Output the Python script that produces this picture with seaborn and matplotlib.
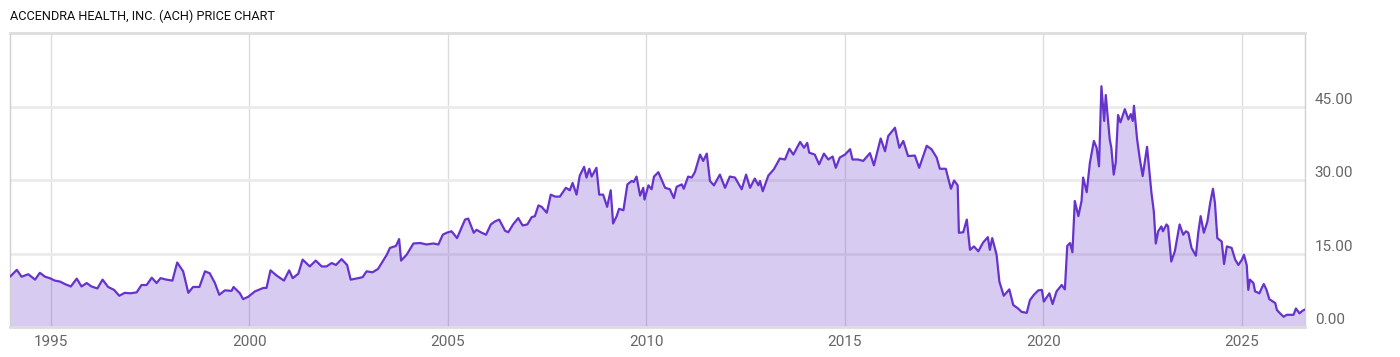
import numpy as np
import pandas as pd
import seaborn as sns
import matplotlib
matplotlib.use("Agg")
import matplotlib.pyplot as plt

sns.set_theme(style="white")
plt.rcParams['font.family'] = ['Roboto', 'DejaVu Sans']

TITLE = "ACCENDRA HEALTH, INC. (ACH) PRICE CHART"

# price history (decimal year, close)
years = [
    1993.97, 1994.14, 1994.26, 1994.43, 1994.60, 1994.72, 1994.85, 1994.97,
    1995.10, 1995.23, 1995.35, 1995.50, 1995.65, 1995.77, 1995.90,
    1996.02, 1996.17, 1996.30, 1996.44, 1996.59, 1996.72, 1996.86,
    1997.00, 1997.16, 1997.28, 1997.41, 1997.54, 1997.66, 1997.76, 1997.91,
    1998.06, 1998.18, 1998.33, 1998.46, 1998.58, 1998.74, 1998.88,
    1999.00, 1999.13, 1999.24, 1999.38, 1999.55, 1999.60, 1999.76, 1999.84, 1999.97,
    2000.14, 2000.35, 2000.43, 2000.53, 2000.69, 2000.87,
    2001.00, 2001.09, 2001.23, 2001.34, 2001.52, 2001.67, 2001.82, 2001.94,
    2002.07, 2002.18, 2002.32, 2002.46, 2002.55, 2002.74, 2002.85, 2002.95,
    2003.10, 2003.24, 2003.46, 2003.54, 2003.69, 2003.77, 2003.82, 2003.96,
    2004.13, 2004.30, 2004.46, 2004.63, 2004.76, 2004.87, 2004.97,
    2005.09, 2005.23, 2005.43, 2005.51, 2005.65, 2005.72, 2005.85, 2005.96,
    2006.08, 2006.18, 2006.29, 2006.44, 2006.52, 2006.64, 2006.77, 2006.88,
    2007.00, 2007.11, 2007.19, 2007.28, 2007.36, 2007.49, 2007.59, 2007.70, 2007.82, 2007.97,
    2008.07, 2008.14, 2008.24, 2008.32, 2008.43, 2008.49, 2008.56, 2008.62, 2008.74, 2008.81, 2008.91,
    2009.01, 2009.10, 2009.16, 2009.25, 2009.31, 2009.42, 2009.52, 2009.63, 2009.68, 2009.75, 2009.84, 2009.92, 2009.95,
    2010.05, 2010.13, 2010.19, 2010.30, 2010.47, 2010.59, 2010.69, 2010.76, 2010.89, 2010.94,
    2011.05, 2011.14, 2011.22, 2011.35, 2011.43, 2011.52, 2011.60, 2011.70, 2011.85, 2011.98,
    2012.10, 2012.23, 2012.40, 2012.51, 2012.61, 2012.73, 2012.82, 2012.86, 2012.93,
    2013.07, 2013.21, 2013.36, 2013.49, 2013.60, 2013.70, 2013.87, 2013.97,
    2014.05, 2014.10, 2014.24, 2014.35, 2014.47, 2014.58, 2014.69, 2014.77, 2014.87,
    2015.00, 2015.13, 2015.19, 2015.33, 2015.46, 2015.63, 2015.73, 2015.90,
    2016.01, 2016.09, 2016.26, 2016.37, 2016.47, 2016.59, 2016.76, 2016.87,
    2017.06, 2017.18, 2017.31, 2017.39, 2017.54, 2017.67, 2017.75, 2017.84, 2017.87, 2017.98,
    2018.07, 2018.15, 2018.25, 2018.36, 2018.48, 2018.60, 2018.65, 2018.71, 2018.82, 2018.89,
    2019.00, 2019.14, 2019.24, 2019.36, 2019.45, 2019.58, 2019.66, 2019.76, 2019.87, 2019.96,
    2020.01, 2020.15, 2020.23, 2020.33, 2020.46, 2020.54, 2020.60, 2020.67, 2020.73, 2020.79, 2020.88, 2020.96,
    2021.00, 2021.09, 2021.17, 2021.27, 2021.34, 2021.40, 2021.46, 2021.53, 2021.57, 2021.67, 2021.71, 2021.77, 2021.82, 2021.88, 2021.94,
    2022.05, 2022.14, 2022.20, 2022.25, 2022.28, 2022.36, 2022.43, 2022.50, 2022.61, 2022.72, 2022.78, 2022.83, 2022.89, 2022.97,
    2023.01, 2023.10, 2023.14, 2023.22, 2023.31, 2023.43, 2023.52, 2023.59, 2023.65, 2023.73, 2023.84, 2023.90, 2023.96,
    2024.04, 2024.13, 2024.20, 2024.27, 2024.32, 2024.38, 2024.49, 2024.55, 2024.62, 2024.74, 2024.83, 2024.91,
    2025.00, 2025.05, 2025.12, 2025.16, 2025.20, 2025.29, 2025.33, 2025.44, 2025.50, 2025.55, 2025.62, 2025.69, 2025.84, 2025.88, 2025.96,
    2026.05, 2026.13, 2026.30, 2026.36, 2026.45, 2026.52, 2026.59,
]

prices = [
    10.3, 11.7, 10.3, 10.8, 9.7, 11.1, 10.3, 10.0,
    9.5, 9.3, 8.8, 8.3, 9.9, 8.3, 9.0,
    8.3, 7.9, 9.7, 8.2, 7.6, 6.4, 7.0,
    6.9, 7.1, 8.6, 8.6, 10.1, 9.0, 10.0, 9.7,
    9.5, 13.2, 11.4, 7.0, 8.2, 8.2, 11.4,
    11.0, 9.0, 6.6, 7.5, 7.4, 8.2, 6.9, 5.7, 6.2,
    7.3, 8.0, 8.0, 11.6, 10.5, 9.5,
    11.6, 10.0, 10.9, 13.8, 12.4, 13.6, 12.4, 12.4,
    13.1, 12.7, 13.9, 12.7, 9.7, 10.0, 10.2, 11.4,
    11.2, 11.9, 14.8, 16.2, 16.6, 18.0, 13.6, 14.8,
    17.1, 17.2, 16.9, 17.1, 16.9, 18.9, 19.3,
    19.6, 18.2, 22.0, 22.2, 19.3, 19.9, 19.3, 18.9,
    21.0, 21.6, 22.0, 19.7, 19.4, 21.0, 22.3, 20.8,
    21.0, 22.5, 22.7, 24.9, 24.6, 23.4, 27.1, 26.7, 26.7, 28.5,
    28.0, 29.5, 27.1, 31.0, 32.8, 30.6, 32.4, 30.8, 32.6, 27.1, 27.1,
    24.6, 28.0, 21.2, 22.7, 24.2, 23.9, 29.2, 29.9, 29.7, 30.8, 26.9, 28.5, 26.1,
    29.0, 28.2, 30.8, 31.7, 28.5, 28.2, 26.4, 28.7, 29.2, 28.3,
    30.8, 30.6, 31.7, 35.3, 34.0, 35.5, 29.9, 29.0, 31.2, 28.5,
    30.8, 30.6, 28.2, 31.2, 28.5, 30.4, 29.0, 29.9, 27.8,
    31.0, 32.3, 34.5, 34.3, 36.5, 35.3, 37.9, 36.7,
    37.7, 35.7, 35.3, 33.3, 35.5, 34.3, 34.9, 32.6, 34.7,
    35.3, 36.4, 34.3, 34.3, 34.0, 35.6, 33.1, 38.6,
    36.0, 39.1, 40.8, 36.7, 38.1, 35.0, 35.1, 32.6,
    37.1, 36.4, 34.7, 32.4, 32.4, 28.3, 30.0, 29.0, 19.3, 19.4,
    22.0, 15.8, 16.5, 15.5, 17.3, 18.4, 15.8, 18.2, 14.8, 9.3,
    6.4, 7.7, 4.5, 3.8, 3.1, 2.9, 5.5, 6.6, 7.5, 7.6,
    5.2, 6.9, 4.7, 7.3, 8.6, 7.7, 16.6, 17.2, 15.3, 25.8, 22.7, 25.8,
    30.6, 27.6, 33.6, 38.1, 36.7, 32.9, 49.3, 42.2, 47.5, 38.4, 36.7, 31.2, 33.6, 43.4, 41.9,
    44.6, 42.5, 43.6, 42.2, 45.3, 38.4, 34.3, 30.9, 36.9, 27.5, 23.7, 17.1, 19.6, 20.6,
    19.6, 21.0, 20.6, 13.4, 15.5, 21.0, 18.9, 19.6, 19.3, 16.2, 14.6, 19.3, 22.7,
    19.3, 21.6, 25.4, 28.3, 25.4, 18.2, 17.5, 12.9, 16.5, 16.2, 13.8, 12.7,
    13.8, 14.8, 12.7, 7.6, 9.7, 9.0, 7.3, 6.9, 8.0, 8.8, 7.6, 5.7, 4.9, 3.5, 2.8,
    2.1, 2.5, 2.5, 3.8, 2.8, 3.3, 3.6,
]

year_ticks = [1995, 2000, 2005, 2010, 2015, 2020, 2025]
price_ticks = [0, 15, 30, 45]

df = pd.DataFrame({"year": years, "price": prices})

LINE = "#6633cc"
GRID_V = "#dcdcdc"
GRID_H = "#ebebeb"
TEXT = "#666666"

fig = plt.figure(figsize=(14, 3.57), dpi=100)
ax = fig.add_axes([0.0071, 0.084, 0.925, 0.8236])

ax.fill_between(df["year"], df["price"], 0, color=LINE, alpha=0.25, lw=0, zorder=2)
sns.lineplot(data=df, x="year", y="price", ax=ax, color=LINE, lw=1.6, zorder=3)

ax.set_xlim(1993.967, 2026.587)
ax.set_ylim(0, 60.2)

ax.set_xticks(year_ticks)
ax.set_xticklabels([str(y) for y in year_ticks])
ax.set_yticks(price_ticks)
ax.set_yticklabels([f"{v:.2f}" for v in price_ticks])

ax.grid(False)
for y in year_ticks:
    ax.axvline(y, color=GRID_V, lw=1, zorder=1)
for v in price_ticks[1:]:
    ax.axhline(v, color=GRID_H, lw=2, zorder=1)

ax.yaxis.tick_right()
ax.tick_params(axis='both', length=0, labelsize=11, labelcolor=TEXT)
ax.tick_params(axis='x', pad=6)
ax.tick_params(axis='y', pad=7)
for lbl in ax.get_yticklabels():
    lbl.set_verticalalignment('bottom')

ax.set_xlabel("")
ax.set_ylabel("")

for side in ['top', 'bottom']:
    ax.spines[side].set_color("#dddddd")
    ax.spines[side].set_linewidth(2)
for side in ['left', 'right']:
    ax.spines[side].set_color("#d0d0d0")
    ax.spines[side].set_linewidth(1)

fig.text(10 / 1400, 1 - 16 / 357, TITLE, fontsize=9.2, color="#111111",
         ha='left', va='center')

fig.savefig("out.png", dpi=100)
plt.close(fig)
